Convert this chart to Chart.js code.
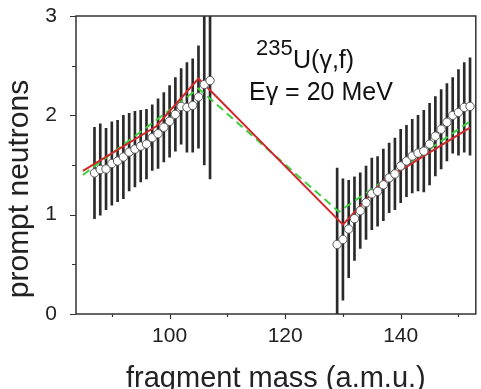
<!DOCTYPE html>
<html>
<head>
<meta charset="utf-8">
<script src="https://cdn.jsdelivr.net/npm/chart.js@4.4.0/dist/chart.umd.min.js"></script>
<style>
  html, body { margin: 0; padding: 0; background: #fff; overflow: hidden; }
  #wrap { position: relative; width: 481px; height: 400px; }
</style>
</head>
<body>
<div id="wrap"><canvas id="c"></canvas></div>
<script>
// Prompt neutron yield vs fragment mass, 235U(γ,f) at Eγ = 20 MeV.
// Light-fragment group (with error bars)
const leftMass = [87, 88, 89, 90, 91, 92, 93, 94, 95, 96, 97, 98, 99, 100, 101, 102, 103, 104, 105, 106, 107];
const leftVal  = [1.42, 1.455, 1.46, 1.515, 1.54, 1.58, 1.63, 1.66, 1.69, 1.71, 1.775, 1.815, 1.88, 1.94, 2.01, 2.09, 2.08, 2.10, 2.185, 2.31, 2.35];
const leftErr  = [0.46, 0.46, 0.41, 0.42, 0.41, 0.42, 0.39, 0.38, 0.36, 0.35, 0.33, 0.35, 0.35, 0.36, 0.37, 0.38, 0.45, 0.47, 0.515, 0.81, 0.99];
// Heavy-fragment group
const rightMass = [129, 130, 131, 132, 133, 134, 135, 136, 137, 138, 139, 140, 141, 142, 143, 144, 145, 146, 147, 148, 149, 150, 151, 152];
const rightVal  = [0.70, 0.75, 0.855, 0.96, 1.04, 1.12, 1.21, 1.235, 1.30, 1.37, 1.41, 1.49, 1.54, 1.59, 1.62, 1.64, 1.71, 1.79, 1.86, 1.93, 2.00, 2.03, 2.08, 2.09];
const rightErr  = [0.77, 0.61, 0.49, 0.42, 0.38, 0.37, 0.36, 0.35, 0.36, 0.35, 0.36, 0.37, 0.36, 0.37, 0.38, 0.41, 0.41, 0.40, 0.40, 0.39, 0.38, 0.43, 0.45, 0.49];
// Model curves
const redX   = [85, 97.7, 105, 130, 137, 152];
const redY   = [1.44, 1.89, 2.37, 0.90, 1.34, 1.876];
const greenX = [85, 105, 129.3, 152];
const greenY = [1.40, 2.27, 1.03, 1.94];
// Axes
const xTickVals = [90, 100, 110, 120, 130, 140, 150];
const xLabelled = [100, 120, 140];
const yTickVals = [0, 0.5, 1, 1.5, 2, 2.5, 3];
const yLabelled = [0, 1, 2, 3];

const FONT = "'Liberation Sans', Arial, sans-serif";
const mass = leftMass.concat(rightMass);
const val = leftVal.concat(rightVal);
const err = leftErr.concat(rightErr);

const frameTicks = {
  id: "frameTicks",
  afterDraw(chart) {
    const { ctx, chartArea: a, scales: { x, y } } = chart;
    ctx.save();
    ctx.strokeStyle = "#333";
    ctx.lineWidth = 1.5;
    ctx.strokeRect(a.left, a.top, a.right - a.left, a.bottom - a.top);
    ctx.lineWidth = 1.2;
    ctx.beginPath();
    x.ticks.forEach((t) => {
      const px = Math.round(x.getPixelForValue(t.value)) + 0.5;
      const len = xLabelled.includes(t.value) ? 5 : 3;
      ctx.moveTo(px, a.bottom); ctx.lineTo(px, a.bottom + len);
    });
    y.ticks.forEach((t) => {
      const py = Math.round(y.getPixelForValue(t.value)) + 0.5;
      const len = yLabelled.includes(t.value) ? 6 : 4;
      ctx.moveTo(a.left, py); ctx.lineTo(a.left - len, py);
    });
    ctx.stroke();

    ctx.fillStyle = "#222";
    // y axis title, sitting a little below the plot centre as in the original
    ctx.save();
    ctx.translate(28, 189);
    ctx.rotate(-Math.PI / 2);
    ctx.textAlign = "center";
    ctx.textBaseline = "alphabetic";
    ctx.font = `30px ${FONT}`;
    ctx.fillText("prompt neutrons", 0, 0);
    ctx.restore();

    // reaction label
    ctx.fillStyle = "#111";
    ctx.textBaseline = "alphabetic";
    ctx.font = `22px ${FONT}`;
    ctx.fillText("235", a.left + 180, a.top + 39);
    ctx.font = `25px ${FONT}`;
    ctx.fillText("U(γ,f)", a.left + 217, a.top + 52);
    ctx.fillText("Eγ = 20 MeV", a.left + 173, a.top + 84);
    ctx.restore();
  },
};

new Chart(document.getElementById("c"), {
  type: "bar",
  data: {
    datasets: [
      {
        type: "scatter",
        data: mass.map((m, i) => ({ x: m, y: val[i] })),
        pointRadius: 4.2,
        pointBackgroundColor: "#fff",
        pointBorderColor: "#555",
        pointBorderWidth: 1,
        order: 0,
      },
      {
        type: "line",
        data: redX.map((m, i) => ({ x: m, y: redY[i] })),
        borderColor: "#d0282a",
        borderWidth: 2,
        pointRadius: 0,
        tension: 0,
        order: 1,
      },
      {
        type: "line",
        data: greenX.map((m, i) => ({ x: m, y: greenY[i] })),
        borderColor: "#3fcf3f",
        borderWidth: 2,
        borderDash: [8, 5],
        pointRadius: 0,
        tension: 0,
        order: 2,
      },
      {
        type: "bar",
        data: mass.map((m, i) => ({ x: m, y: [val[i] - err[i], val[i] + err[i]] })),
        backgroundColor: "#2a2a2a",
        barThickness: 2,
        grouped: false,
        order: 3,
      },
    ],
  },
  options: {
    responsive: true,
    maintainAspectRatio: false,
    animation: false,
    events: [],
    layout: { padding: { top: 16, right: 4, left: 0, bottom: 0 } },
    plugins: { legend: { display: false }, tooltip: { enabled: false } },
    scales: {
      x: {
        type: "linear",
        min: 83.8,
        max: 153,
        offset: false,
        grid: { display: false },
        border: { display: false },
        afterBuildTicks: (s) => { s.ticks = xTickVals.map((v) => ({ value: v })); },
        afterFit: (s) => { s.height = 86; s.paddingLeft = 0; s.paddingRight = 0; },
        ticks: {
          padding: 2,
          color: "#222",
          font: { family: FONT, size: 21 },
          maxRotation: 0,
          autoSkip: false,
          callback: (v) => (xLabelled.includes(v) ? String(v) : ""),
        },
        title: {
          display: true,
          text: "fragment mass (a.m.u.)",
          color: "#222",
          font: { family: FONT, size: 29 },
          padding: { top: 0, bottom: 4 },
        },
      },
      y: {
        min: 0,
        max: 3,
        grid: { display: false },
        border: { display: false },
        afterBuildTicks: (s) => { s.ticks = yTickVals.map((v) => ({ value: v })); },
        afterFit: (s) => { s.width = 76; s.paddingTop = 0; s.paddingBottom = 0; },
        ticks: {
          padding: 11,
          color: "#222",
          font: { family: FONT, size: 21 },
          autoSkip: false,
          callback: (v) => (yLabelled.includes(v) ? String(v) : ""),
        },
      },
    },
  },
  plugins: [frameTicks],
});
</script>
</body>
</html>
